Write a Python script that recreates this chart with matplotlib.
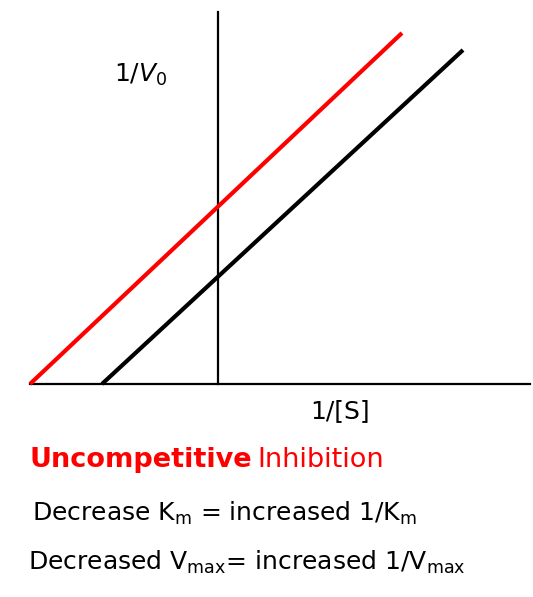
import matplotlib.pyplot as plt

plt.rcParams['font.family'] = ['DejaVu Sans']
plt.rcParams['mathtext.fontset'] = 'custom'
plt.rcParams['mathtext.rm'] = 'DejaVu Sans'
plt.rcParams['mathtext.it'] = 'DejaVu Sans:italic'

# Lineweaver-Burk lines (x = 1/[S], y = 1/V0), origin at axes crossing
red_x = [-188, 184]
red_y = [0, 351]
black_x = [-116, 245]
black_y = [0, 334]

fig = plt.figure(figsize=(5.33, 5.97), dpi=100)
ax = fig.add_axes([0, 0, 1, 1])
ax.set_xlim(-218, 315)
ax.set_ylim(-213, 384)
ax.axis('off')

# axes
ax.plot([-188, 312], [0, 0], color='black', lw=1.6)
ax.plot([0, 0], [0, 372], color='black', lw=1.6)

ax.plot(red_x, red_y, color='#ff0000', lw=3, solid_capstyle='butt')
ax.plot(black_x, black_y, color='black', lw=3, solid_capstyle='butt')

ax.text(-104, 309, r'1/$\mathit{V}_\mathit{0}$', fontsize=18, va='center')
ax.text(92, -27, '1/[S]', fontsize=18, va='center')

t1 = ax.text(-189, -76, 'Uncompetitive', fontsize=19.5, color='#ff0000',
             fontweight='bold', va='center')
fig.canvas.draw()
bb = t1.get_window_extent()
x_end = ax.transData.inverted().transform((bb.x1, bb.y0))[0]
ax.text(x_end + 6, -76, 'Inhibition', fontsize=19.5, color='#ff0000', va='center')

ax.text(-186, -129, r'Decrease K$_\mathregular{m}$ = increased 1/K$_\mathregular{m}$',
        fontsize=18, va='center')
ax.text(-190, -178, r'Decreased V$_\mathregular{max}$= increased 1/V$_\mathregular{max}$',
        fontsize=18, va='center')

fig.savefig('out.png', dpi=100)
